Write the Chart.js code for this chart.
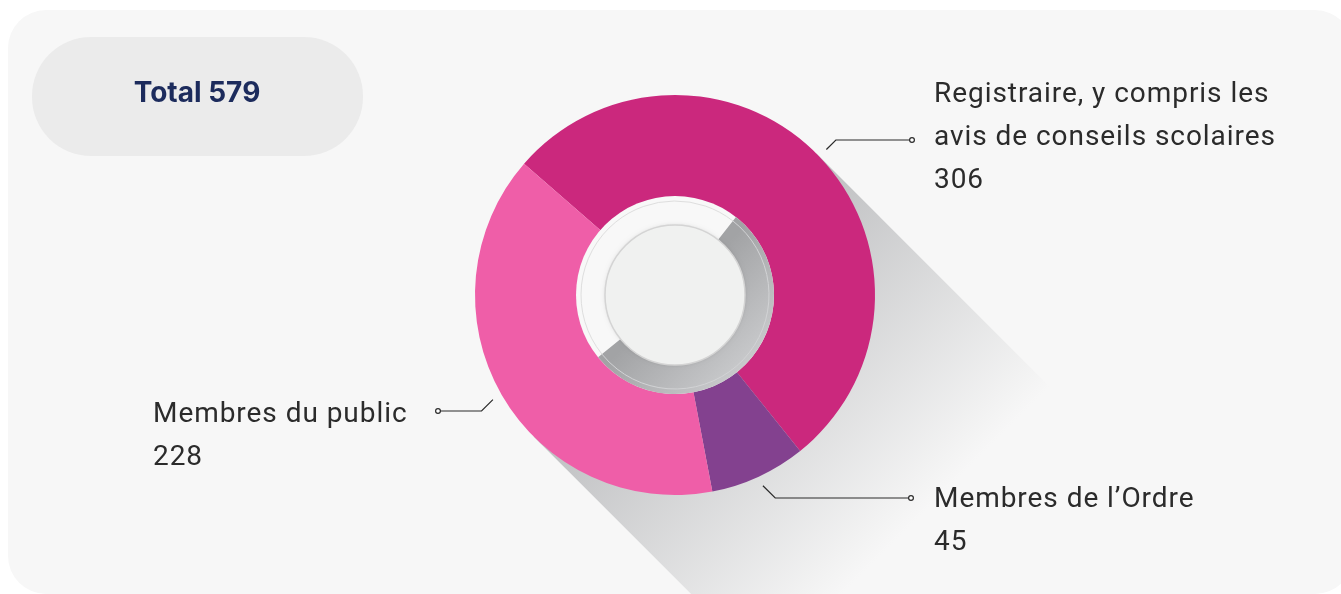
<!DOCTYPE html>
<html>
<head>
<meta charset="utf-8">
<script src="https://cdn.jsdelivr.net/npm/chart.js@4.4.1/dist/chart.umd.min.js"></script>
<style>
  html, body { margin: 0; padding: 0; background: #ffffff; }
  #wrap { width: 1341px; height: 594px; }
</style>
</head>
<body>
<div id="wrap"><canvas id="donut"></canvas></div>
<script>
// data
const categories = [
    ['Registraire, y compris les', 'avis de conseils scolaires'],
    ['Membres de l’Ordre'],
    ['Membres du public']
];
const values = [306, 45, 228];
const sliceColors = ['#cb287d', '#83418f', '#ef5ea8'];
const totalLabel = 'Total';

// where each label sits (text x, first baseline, leader y, dot x)
const labelPos = [
    { x: 934, y: 102, lineY: 140, dotX: 912 },
    { x: 934, y: 507, lineY: 498, dotX: 911 },
    { x: 153, y: 422, lineY: 411, dotX: 438 }
];

const CARD = '#f7f7f7';

function roundRect(ctx, x, y, w, h, r) {
    ctx.beginPath();
    ctx.moveTo(x + r, y);
    ctx.arcTo(x + w, y, x + w, y + h, r);
    ctx.arcTo(x + w, y + h, x, y + h, r);
    ctx.arcTo(x, y + h, x, y, r);
    ctx.arcTo(x, y, x + w, y, r);
    ctx.closePath();
}

const decor = {
    id: 'decor',
    beforeDraw(chart) {
        const ctx = chart.ctx;
        ctx.save();
        ctx.fillStyle = '#ffffff';
        ctx.fillRect(0, 0, chart.width, chart.height);
        roundRect(ctx, 8, 10, 1345, 584, 38);
        ctx.fillStyle = CARD;
        ctx.fill();
        // total pill
        roundRect(ctx, 32, 37, 331, 119, 59);
        ctx.fillStyle = '#ebebeb';
        ctx.fill();
        const total = values.reduce((a, b) => a + b, 0);
        ctx.fillStyle = '#1c2b5c';
        ctx.font = '700 28px Inter';
        ctx.textAlign = 'center';
        ctx.fillText(totalLabel + ' ' + total, 197, 102);
        ctx.restore();
    },
    beforeDatasetsDraw(chart) {
        const ctx = chart.ctx;
        const arc = chart.getDatasetMeta(0).data[0];
        const cx = arc.x, cy = arc.y, R = arc.outerRadius;
        const k = Math.SQRT1_2;
        ctx.save();
        roundRect(ctx, 8, 10, 1345, 584, 38);
        ctx.clip();
        const L = 900;
        ctx.beginPath();
        ctx.moveTo(cx + R * k, cy - R * k);
        ctx.lineTo(cx + R * k + L, cy - R * k + L);
        ctx.lineTo(cx - R * k + L, cy + R * k + L);
        ctx.lineTo(cx - R * k, cy + R * k);
        ctx.closePath();
        const g = ctx.createLinearGradient(cx, cy, cx + 330 * k, cy + 330 * k);
        g.addColorStop(0, '#bcbdbf');
        g.addColorStop(1, CARD);
        ctx.fillStyle = g;
        ctx.fill();
        ctx.restore();
    },
    afterDatasetsDraw(chart) {
        const ctx = chart.ctx;
        const meta = chart.getDatasetMeta(0);
        const first = meta.data[0];
        const cx = first.x, cy = first.y, R = first.outerRadius;
        const rOut = 99, rIn = 70, rLine = 94;
        const deg = Math.PI / 180;
        ctx.save();

        // white ring
        ctx.beginPath();
        ctx.arc(cx, cy, rOut, 0, Math.PI * 2);
        ctx.fillStyle = '#f8f8f8';
        ctx.fill();

        // grey part of the ring
        const a0 = -52 * deg, a1 = 141 * deg;
        ctx.beginPath();
        ctx.arc(cx, cy, rOut, a0, a1);
        ctx.arc(cx, cy, rIn, a1, a0, true);
        ctx.closePath();
        const gg = ctx.createLinearGradient(cx, cy, cx + rOut * 0.707, cy + rOut * 0.707);
        gg.addColorStop(0, '#a2a3a5');
        gg.addColorStop(1, '#c8c9cb');
        ctx.fillStyle = gg;
        ctx.fill();

        // thin inner lines of the ring
        ctx.lineWidth = 1;
        ctx.strokeStyle = '#dedede';
        ctx.beginPath();
        ctx.arc(cx, cy, rLine, a1, a0 + Math.PI * 2);
        ctx.stroke();
        ctx.strokeStyle = '#d2d3d5';
        ctx.beginPath();
        ctx.arc(cx, cy, rLine, a0, a1);
        ctx.stroke();

        // centre disc
        ctx.beginPath();
        ctx.arc(cx, cy, rIn, 0, Math.PI * 2);
        ctx.shadowColor = 'rgba(0,0,0,0.12)';
        ctx.shadowBlur = 4;
        ctx.fillStyle = '#f0f1f0';
        ctx.fill();
        ctx.shadowColor = 'transparent';
        ctx.lineWidth = 1.5;
        ctx.strokeStyle = '#d4d4d4';
        ctx.stroke();

        // leader lines and labels
        meta.data.forEach((el, i) => {
            const p = labelPos[i];
            const mid = (el.startAngle + el.endAngle) / 2;
            const ax = cx + Math.cos(mid) * (R + 10);
            const ay = cy + Math.sin(mid) * (R + 10);
            const dy = p.lineY - ay;
            const sx = p.dotX > ax ? 1 : -1;
            const ex = ax + sx * Math.abs(dy);
            ctx.beginPath();
            ctx.moveTo(ax, ay);
            ctx.lineTo(ex, p.lineY);
            ctx.lineTo(p.dotX, p.lineY);
            ctx.lineWidth = 1.2;
            ctx.strokeStyle = '#2b2b2b';
            ctx.stroke();
            ctx.beginPath();
            ctx.arc(p.dotX, p.lineY, 2.4, 0, Math.PI * 2);
            ctx.fillStyle = '#ffffff';
            ctx.fill();
            ctx.stroke();

            ctx.fillStyle = '#2b2b2b';
            ctx.font = '28px Roboto';
            ctx.letterSpacing = '0.95px';
            ctx.textAlign = 'left';
            const lines = categories[i].concat([String(values[i])]);
            lines.forEach((t, j) => ctx.fillText(t, p.x, p.y + j * 43));
        });
        ctx.restore();
    }
};

new Chart(document.getElementById('donut'), {
    type: 'doughnut',
    data: {
        labels: categories.map(c => c.join(' ')),
        datasets: [{
            data: values,
            backgroundColor: sliceColors,
            borderWidth: 0,
            hoverOffset: 0
        }]
    },
    options: {
        responsive: true,
        maintainAspectRatio: false,
        animation: false,
        events: [],
        rotation: -49,
        cutout: '49%',
        layout: { padding: { top: 95, bottom: 99, left: 475, right: 466 } },
        plugins: {
            legend: { display: false },
            tooltip: { enabled: false }
        }
    },
    plugins: [decor]
});
</script>
</body>
</html>
